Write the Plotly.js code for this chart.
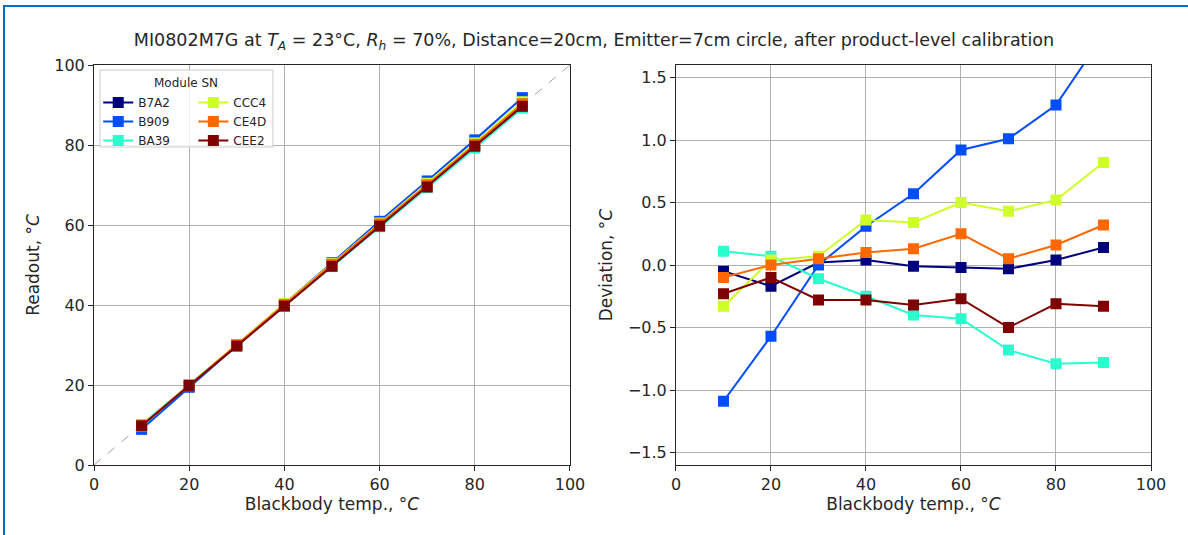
<!DOCTYPE html>
<html>
<head>
<meta charset="utf-8">
<script src="https://cdn.plot.ly/plotly-3.0.1.min.js"></script>
<style>
  html, body { margin: 0; padding: 0; background: #fff; }
  #wrap { position: relative; width: 1188px; height: 535px; overflow: hidden; }
  #chart { width: 1188px; height: 535px; }
  #frame { position: absolute; left: 3px; top: 5px; width: 1200px; height: 600px;
           border-top: 2px solid #0a6cc0; border-left: 2px solid #0a6cc0; pointer-events: none; }
</style>
</head>
<body>
<div id="wrap">
  <div id="chart"></div>
  <div id="frame"></div>
</div>
<script>
// ---- data ----
const blackbody = [10, 20, 30, 40, 50, 60, 70, 80, 90];
const moduleSN = ["B7A2", "B909", "BA39", "CCC4", "CE4D", "CEE2"];
const seriesColors = ["#00007f", "#004cff", "#29ffce", "#ceff29", "#ff6800", "#7f0000"];

const readoutB7A2 = [9.95, 19.83, 30.02, 40.04, 49.99, 59.98, 69.97, 80.04, 90.14];
const readoutB909 = [8.91, 19.43, 30.00, 40.31, 50.57, 60.92, 71.01, 81.28, 91.84];
const readoutBA39 = [10.11, 20.07, 29.89, 39.75, 49.60, 59.57, 69.32, 79.21, 89.22];
const readoutCCC4 = [9.67, 20.04, 30.07, 40.36, 50.34, 60.50, 70.43, 80.52, 90.82];
const readoutCE4D = [9.90, 20.00, 30.05, 40.10, 50.13, 60.25, 70.05, 80.16, 90.32];
const readoutCEE2 = [9.77, 19.90, 29.72, 39.72, 49.68, 59.73, 69.50, 79.69, 89.67];

const devB7A2 = [-0.05, -0.17, 0.02, 0.04, -0.01, -0.02, -0.03, 0.04, 0.14];
const devB909 = [-1.09, -0.57, 0.00, 0.31, 0.57, 0.92, 1.01, 1.28, 1.84];
const devBA39 = [0.11, 0.07, -0.11, -0.25, -0.40, -0.43, -0.68, -0.79, -0.78];
const devCCC4 = [-0.33, 0.04, 0.07, 0.36, 0.34, 0.50, 0.43, 0.52, 0.82];
const devCE4D = [-0.10, 0.00, 0.05, 0.10, 0.13, 0.25, 0.05, 0.16, 0.32];
const devCEE2 = [-0.23, -0.10, -0.28, -0.28, -0.32, -0.27, -0.50, -0.31, -0.33];

const identityX = [0, 100];
const identityY = [0, 100];

const xTicks = [0, 20, 40, 60, 80, 100];
const yTicksLeft = [0, 20, 40, 60, 80, 100];
const yTicksRight = [-1.5, -1.0, -0.5, 0.0, 0.5, 1.0, 1.5];
const yTickTextRight = ["\u22121.5", "\u22121.0", "\u22120.5", "0.0", "0.5", "1.0", "1.5"];

const readouts = [readoutB7A2, readoutB909, readoutBA39, readoutCCC4, readoutCE4D, readoutCEE2];
const deviations = [devB7A2, devB909, devBA39, devCCC4, devCE4D, devCEE2];

// ---- traces ----
const FONT = "DejaVu Sans, Verdana, sans-serif";
const TXT = "#262626";
const traces = [];
traces.push({
  x: identityX, y: identityY, mode: "lines", xaxis: "x", yaxis: "y",
  line: { color: "#a0a0a0", width: 1, dash: "dash" }, showlegend: false, hoverinfo: "skip"
});
moduleSN.forEach((sn, i) => {
  traces.push({
    x: blackbody, y: readouts[i], name: sn, mode: "lines+markers",
    xaxis: "x", yaxis: "y",
    line: { color: seriesColors[i], width: 2 },
    marker: { symbol: "square", size: 11, color: seriesColors[i] },
    legend: i < 3 ? "legend" : "legend2",
    showlegend: true
  });
});
moduleSN.forEach((sn, i) => {
  traces.push({
    x: blackbody, y: deviations[i], name: sn, mode: "lines+markers",
    xaxis: "x2", yaxis: "y2",
    line: { color: seriesColors[i], width: 2 },
    marker: { symbol: "square", size: 11, color: seriesColors[i] },
    showlegend: false, cliponaxis: true
  });
});

const axisCommon = {
  showline: true, mirror: true, linecolor: TXT, linewidth: 1,
  ticks: "outside", ticklen: 5, tickwidth: 1, tickcolor: TXT,
  showgrid: true, gridcolor: "#b0b0b0", gridwidth: 1, zeroline: false,
  tickfont: { family: FONT, size: 16, color: TXT }
};
function ax(extra) { return Object.assign(JSON.parse(JSON.stringify(axisCommon)), extra); }
function axTitle(text, standoff) {
  return { text: text, font: { family: FONT, size: 17, color: TXT }, standoff: standoff };
}

const legendCommon = {
  orientation: "v", bgcolor: "rgba(0,0,0,0)", borderwidth: 0,
  font: { family: FONT, size: 12, color: TXT },
  xref: "paper", yref: "paper", xanchor: "left", yanchor: "top",
  itemclick: false, itemdoubleclick: false, tracegroupgap: 0
};

const layout = {
  width: 1188, height: 535,
  margin: { l: 94, r: 37, t: 65, b: 70 },
  paper_bgcolor: "#ffffff", plot_bgcolor: "#ffffff",
  font: { family: FONT, color: TXT },
  title: {
    text: "MI0802M7G at <i>T</i><sub><i>A</i></sub> = 23\u00b0C, <i>R</i><sub><i>h</i></sub> = 70%, Distance=20cm, Emitter=7cm circle, after product-level calibration",
    font: { family: FONT, size: 17.5, color: TXT },
    xref: "container", x: 0.5, xanchor: "center",
    yref: "container", y: 1 - 40 / 535, yanchor: "middle"
  },
  xaxis: ax({ domain: [0, 0.4503], range: [0, 100], tickvals: xTicks, anchor: "y",
    title: axTitle("Blackbody temp., \u00b0<i>C</i>", 4) }),
  yaxis: ax({ domain: [0, 1], range: [0, 100], tickvals: yTicksLeft, anchor: "x",
    title: axTitle("Readout, \u00b0<i>C</i>", 10) }),
  xaxis2: ax({ domain: [0.5506, 1], range: [0, 100], tickvals: xTicks, anchor: "y2",
    title: axTitle("Blackbody temp., \u00b0<i>C</i>", 4) }),
  yaxis2: ax({ domain: [0, 1], range: [-1.6, 1.6], tickvals: yTicksRight, ticktext: yTickTextRight, anchor: "x2",
    title: axTitle("Deviation, \u00b0<i>C</i>", 10) }),
  legend: Object.assign({}, legendCommon, { x: 0.004, y: 0.9425 }),
  legend2: Object.assign({}, legendCommon, { x: 0.094, y: 0.9425 }),
  shapes: [{
    type: "rect", xref: "paper", yref: "paper", layer: "above",
    x0: 0.0057, x1: 0.1693, y0: 0.795, y1: 0.9875,
    fillcolor: "rgba(255,255,255,0.8)", line: { color: "#cccccc", width: 1 }
  }],
  annotations: [{
    text: "Module SN", xref: "paper", yref: "paper", x: 0.0875, y: (465 - 83) / 400,
    xanchor: "center", yanchor: "middle", showarrow: false,
    font: { family: FONT, size: 12, color: TXT }
  }]
};

Plotly.newPlot("chart", traces, layout, { displayModeBar: false, staticPlot: true });
</script>
</body>
</html>
